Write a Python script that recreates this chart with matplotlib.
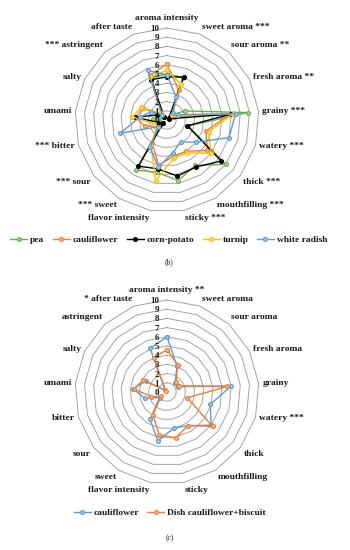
import numpy as np
import matplotlib
matplotlib.use('Agg')
import matplotlib.pyplot as plt
from matplotlib.transforms import offset_copy
from matplotlib.lines import Line2D
from matplotlib.colors import to_rgb

plt.rcParams['font.family'] = ['Liberation Serif', 'DejaVu Serif']

# ---------------- data: chart (b) ----------------
cats_b = ['aroma intensity', 'sweet aroma ***', 'sour aroma **', 'fresh aroma **', 'grainy ***',
          'watery ***', 'thick ***', 'mouthfilling ***', 'sticky ***', 'flavor intensity',
          '*** sweet', '*** sour', '*** bitter', 'umami', 'salty', '*** astringent', 'after taste']
pea          = [5.0, 4.9, 0.8, 2.2, 8.8, 2.4, 8.0, 5.8, 6.7, 5.8, 6.4, 0.8, 0.8, 1.5, 0.8, 0.5, 4.9]
cauliflower_b = [6.1, 3.5, 0.5, 0.8, 6.9, 4.4, 5.5, 4.0, 4.0, 5.0, 3.0, 1.0, 2.5, 3.4, 2.9, 0.5, 5.2]
corn_potato  = [4.7, 5.0, 0.3, 0.3, 7.0, 2.3, 7.4, 6.0, 6.2, 5.4, 5.9, 0.5, 1.0, 3.5, 1.2, 0.5, 4.7]
turnip       = [5.4, 4.2, 0.8, 1.2, 7.2, 4.7, 6.0, 4.2, 4.2, 6.7, 3.3, 1.5, 1.5, 3.8, 3.1, 1.0, 5.0]
white_radish = [4.9, 2.7, 1.0, 1.3, 7.5, 7.0, 4.0, 2.8, 3.6, 5.2, 3.5, 1.2, 5.3, 3.0, 2.0, 0.8, 5.8]
names_b = ['pea', 'cauliflower', 'corn-potato', 'turnip', 'white radish']

# ---------------- data: chart (c) ----------------
cats_c = ['aroma intensity **', 'sweet aroma', 'sour aroma', 'fresh aroma', 'grainy',
          'watery ***', 'thick', 'mouthfilling', 'sticky', 'flavor intensity',
          'sweet', 'sour', 'bitter', 'umami', 'salty', 'astringent', '* after taste']
cauliflower_c = [6.0, 3.0, 1.3, 1.3, 7.0, 4.9, 6.0, 4.3, 4.0, 5.4, 3.5, 1.0, 2.5, 3.7, 2.6, 0.3, 5.1]
dish          = [4.6, 3.2, 1.5, 1.5, 6.6, 2.3, 6.2, 4.3, 5.1, 4.7, 2.9, 0.8, 1.8, 3.6, 2.9, 0.2, 4.0]
names_c = ['cauliflower', 'Dish cauliflower+biscuit']

ticks = list(range(0, 11))

GREEN, ORANGE, BLACK, GOLD, BLUE = '#70AD47', '#ED7D31', '#000000', '#FFC000', '#5B9BD5'
TXT = '#1a1a1a'
W, H = 350, 550

fig = plt.figure(figsize=(W / 100, H / 100), dpi=100)


def light(c):
    r, g, b = to_rgb(c)
    if (r, g, b) == (0, 0, 0):
        return c
    return (0.55 * r + 0.45, 0.55 * g + 0.45, 0.55 * b + 0.45)


def radar(cx, cy, rad, cats, series, names, colors, leg_y, leg_x, leg_ncol, tag, tag_y):
    rect = [(cx - rad) / W, (H - cy - rad) / H, 2 * rad / W, 2 * rad / H]
    ax = fig.add_axes(rect, projection='polar')
    n = len(cats)
    ang = np.arange(n) * 2 * np.pi / n
    ax.set_theta_offset(np.pi / 2)
    ax.set_theta_direction(-1)
    ax.set_ylim(0, 10)
    ax.axis('off')
    angc = np.append(ang, ang[0])
    for r in ticks[1:]:
        ax.plot(angc, [r] * (n + 1), color='#9E9E9E', lw=0.65, zorder=1, clip_on=False)
    for vals, nm, col in zip(series, names, colors):
        v = np.append(vals, vals[0])
        ax.plot(angc, v, color=col, lw=1.0, marker='o', ms=2.8, mfc=light(col), mec=col,
                mew=0.8, zorder=3, clip_on=False, label=nm)
    tr = offset_copy(ax.transData, fig=fig, x=-8, y=-1, units='dots')
    for r in ticks:
        ax.text(0, r, str(r), transform=tr, ha='right', va='center', fontsize=6.5,
                fontweight='bold', color=TXT, zorder=4)
    for a, lab in zip(ang, cats):
        s, c = np.sin(a), np.cos(a)
        ha = 'left' if s > 0.1 else ('right' if s < -0.1 else 'center')
        va = 'bottom' if c > 0.6 else ('top' if c < -0.6 else 'center')
        rr = 10.4 if abs(s) > 0.1 else 10.6
        ax.text(a, rr, lab, ha=ha, va=va, fontsize=6.8, fontweight='bold', color=TXT)
    handles = [Line2D([], [], color=col, lw=1.0, marker='o', ms=2.8, mfc=light(col), mec=col,
                      mew=0.8) for col in colors]
    fig.legend(handles, names, loc='center', bbox_to_anchor=(leg_x, 1 - leg_y / H), ncol=leg_ncol,
               frameon=False, prop={'size': 6.8, 'weight': 'bold'}, handlelength=1.8,
               columnspacing=0.9, handletextpad=0.3, labelcolor=TXT, borderpad=0.2)
    fig.text(leg_x, 1 - tag_y / H, tag, ha='center', va='center', fontsize=5.5, color=TXT)
    return ax


radar(167, 120, 92, cats_b, [pea, cauliflower_b, corn_potato, turnip, white_radish], names_b,
      [GREEN, ORANGE, BLACK, GOLD, BLUE], 240, 0.482, 5, '(b)', 262)
radar(167, 392, 92, cats_c, [cauliflower_c, dish], names_c, [BLUE, ORANGE], 513, 0.485, 2,
      '(c)', 538)

fig.savefig('out.png', dpi=100)
